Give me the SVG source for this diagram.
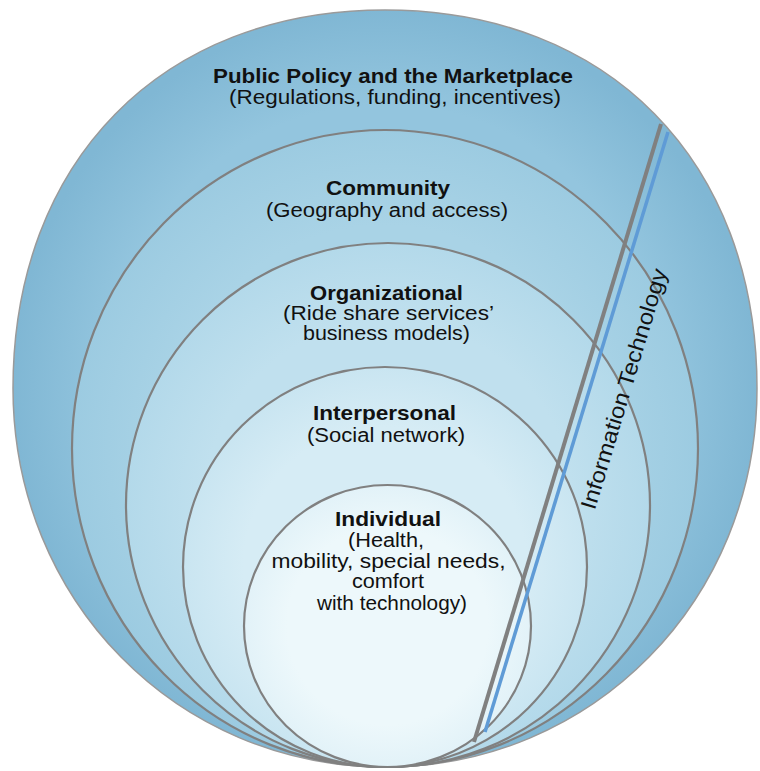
<svg xmlns="http://www.w3.org/2000/svg" width="760" height="771" viewBox="0 0 760 771">
  <defs>
    <radialGradient id="g-outer" cx="0.5" cy="0.5" r="0.5">
      <stop offset="0.75" stop-color="#93c5de"/>
      <stop offset="1" stop-color="#80b7d4"/>
    </radialGradient>
    <radialGradient id="g-community" cx="0.5" cy="0.5" r="0.5">
      <stop offset="0.7" stop-color="#a9d3e6"/>
      <stop offset="1" stop-color="#9ccbe1"/>
    </radialGradient>
    <radialGradient id="g-org" cx="0.5" cy="0.5" r="0.5">
      <stop offset="0.7" stop-color="#c0e0ee"/>
      <stop offset="1" stop-color="#b3d9ea"/>
    </radialGradient>
    <radialGradient id="g-inter" cx="0.5" cy="0.5" r="0.5">
      <stop offset="0.7" stop-color="#d6ecf5"/>
      <stop offset="1" stop-color="#c9e5f1"/>
    </radialGradient>
    <radialGradient id="g-indiv" cx="0.5" cy="0.5" r="0.5">
      <stop offset="0.7" stop-color="#edf8fb"/>
      <stop offset="1" stop-color="#e2f2f8"/>
    </radialGradient>
  </defs>
  <style>
    .ring { stroke: #808080; stroke-width: 2.2; }
    .outer { stroke: #9a9a9a; stroke-width: 1.5; }
    .head { font-family: "Liberation Sans", Arial, sans-serif; font-weight: bold; font-size: 21px; fill: #111; }
    .sub { font-family: "Liberation Sans", Arial, sans-serif; font-size: 20px; fill: #111; }
    .it { font-family: "Liberation Sans", Arial, sans-serif; font-size: 22px; fill: #111; }
  </style>

  <rect width="760" height="771" fill="#ffffff"/>

  <!-- Public Policy and the Marketplace: outer shape, a little fuller across the top -->
  <g id="policy">
    <path class="outer" fill="url(#g-outer)" d="M385,10 C608,10 757,161 757,388.5 C757,600 593,767 385,767 C177,767 13,600 13,388.5 C13,161 162,10 385,10 Z"/>
    <text class="head" x="393" y="83" text-anchor="middle" textLength="360" lengthAdjust="spacingAndGlyphs">Public Policy and the Marketplace</text>
    <text class="sub" x="395" y="104" text-anchor="middle" textLength="332" lengthAdjust="spacingAndGlyphs">(Regulations, funding, incentives)</text>
  </g>

  <!-- Community -->
  <g id="community">
    <ellipse class="ring" cx="385" cy="448.5" rx="313" ry="318.5" fill="url(#g-community)"/>
    <text class="head" x="388" y="195" text-anchor="middle" textLength="124" lengthAdjust="spacingAndGlyphs">Community</text>
    <text class="sub" x="387" y="217" text-anchor="middle" textLength="242" lengthAdjust="spacingAndGlyphs">(Geography and access)</text>
  </g>

  <!-- Organizational -->
  <g id="organizational">
    <ellipse class="ring" cx="388" cy="505" rx="262" ry="262" fill="url(#g-org)"/>
    <text class="head" x="386.5" y="300" text-anchor="middle" textLength="153" lengthAdjust="spacingAndGlyphs">Organizational</text>
    <text class="sub" x="388.5" y="320" text-anchor="middle" textLength="211" lengthAdjust="spacingAndGlyphs">(Ride share services’</text>
    <text class="sub" x="386.5" y="340" text-anchor="middle" textLength="167" lengthAdjust="spacingAndGlyphs">business models)</text>
  </g>

  <!-- Interpersonal -->
  <g id="interpersonal">
    <ellipse class="ring" cx="385" cy="567" rx="202" ry="200" fill="url(#g-inter)"/>
    <text class="head" x="384.5" y="420" text-anchor="middle" textLength="143" lengthAdjust="spacingAndGlyphs">Interpersonal</text>
    <text class="sub" x="386" y="442" text-anchor="middle" textLength="158" lengthAdjust="spacingAndGlyphs">(Social network)</text>
  </g>

  <!-- Individual -->
  <g id="individual">
    <ellipse class="ring" cx="387.5" cy="626" rx="143.5" ry="141" fill="url(#g-indiv)"/>
    <text class="head" x="388" y="526" text-anchor="middle" textLength="106" lengthAdjust="spacingAndGlyphs">Individual</text>
    <text class="sub" x="386" y="547" text-anchor="middle" textLength="76" lengthAdjust="spacingAndGlyphs">(Health,</text>
    <text class="sub" x="388.5" y="568" text-anchor="middle" textLength="234" lengthAdjust="spacingAndGlyphs">mobility, special needs,</text>
    <text class="sub" x="388" y="588" text-anchor="middle" textLength="72" lengthAdjust="spacingAndGlyphs">comfort</text>
    <text class="sub" x="392" y="610" text-anchor="middle" textLength="150" lengthAdjust="spacingAndGlyphs">with technology)</text>
  </g>

  <!-- Information Technology band cutting across the rings -->
  <g id="connectors">
    <line x1="661" y1="124" x2="474" y2="742" stroke="#808080" stroke-width="4"/>
    <line x1="668" y1="132" x2="485" y2="732" stroke="#5f9bd6" stroke-width="3.5"/>
  </g>

  <g id="information-technology">
    <text class="it" transform="translate(631,391) rotate(-73.2)" text-anchor="middle" textLength="250" lengthAdjust="spacingAndGlyphs">Information Technology</text>
  </g>
</svg>
